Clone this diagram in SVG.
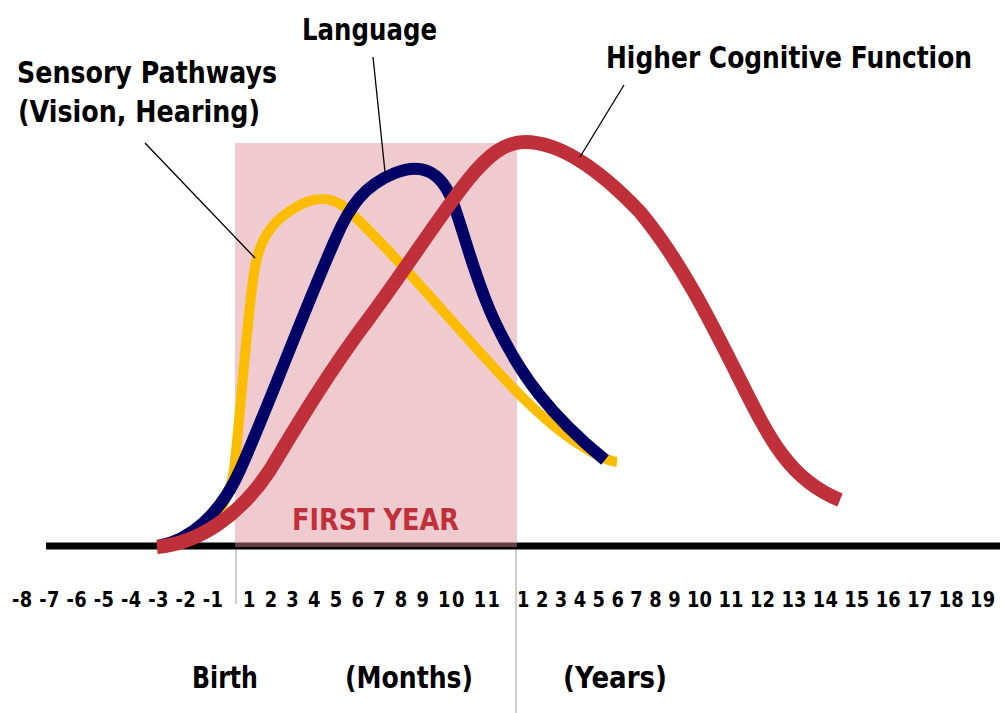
<svg xmlns="http://www.w3.org/2000/svg" width="1004" height="713" viewBox="0 0 1004 713">
<style>
.lbl{font-family:"DejaVu Sans","Liberation Sans",sans-serif;font-weight:bold;fill:#000;}
.big{font-size:30px;}
.tick{font-size:21px;}
.curve{fill:none;stroke-linecap:butt;stroke-linejoin:round;}
.leader{stroke:#000;stroke-width:1.3;fill:none;}
.grid{stroke:#cfcfcf;stroke-width:2;}
</style>
<rect width="1004" height="713" fill="#fff"/>
<g id="axis">
<line class="grid" x1="236" y1="548" x2="236" y2="604"/>
<line class="grid" x1="516" y1="548" x2="516" y2="713"/>
<line x1="46" y1="546" x2="1000" y2="546" stroke="#000" stroke-width="7"/>
</g>
<g id="first-year">
<rect x="235" y="143" width="282" height="404" fill="#dc8a94" fill-opacity="0.45"/>
<text class="lbl big" transform="translate(292,530) scale(0.85,1)" textLength="196.5" lengthAdjust="spacingAndGlyphs" style="fill:#c0303a">FIRST YEAR</text>
</g>
<g id="connectors">
<path id="sensory" class="curve" stroke="#fcbd00" stroke-width="10" d="M158,546 C195,540 225,525 234,470 C242,400 248,300 256,262 C262,235 275,218 300,205 C320,195 335,198 348,210 C380,240 420,285 460,330 C500,375 540,420 580,445 C598,456 608,461 617,462"/>
<path id="language" class="curve" stroke="#000066" stroke-width="12" d="M158,546 C190,540 220,515 240,470 C265,415 300,320 335,240 C350,205 365,185 395,173 C420,163 440,170 452,200 C465,235 475,280 495,322 C520,375 550,415 605,460"/>
<path id="cognitive" class="curve" stroke="#c0303a" stroke-width="14" d="M157,547 C200,543 240,515 270,470 C300,420 330,370 370,317 C405,270 440,215 468,180 C488,155 505,142 525,142 C560,142 600,170 640,212 C680,260 710,320 740,380 C770,440 790,480 840,500"/>
<line class="leader" x1="145" y1="143" x2="255" y2="258"/>
<line class="leader" x1="373" y1="57" x2="385" y2="172"/>
<line class="leader" x1="624" y1="85" x2="580" y2="157"/>
</g>
<g id="label-sensory">
<text class="lbl big" transform="translate(17,83) scale(0.85,1)" textLength="305.9" lengthAdjust="spacingAndGlyphs">Sensory Pathways</text>
<text class="lbl big" transform="translate(18,122) scale(0.85,1)" textLength="284.7" lengthAdjust="spacingAndGlyphs">(Vision, Hearing)</text>
</g>
<g id="label-language">
<text class="lbl big" transform="translate(302,40) scale(0.85,1)" textLength="158.8" lengthAdjust="spacingAndGlyphs">Language</text>
</g>
<g id="label-cognitive">
<text class="lbl big" transform="translate(606,68) scale(0.85,1)" textLength="430.6" lengthAdjust="spacingAndGlyphs">Higher Cognitive Function</text>
</g>
<g id="ticks">
<text class="lbl tick" transform="translate(12,607) scale(0.85,1)" textLength="248.2" lengthAdjust="spacing">-8 -7 -6 -5 -4 -3 -2 -1</text>
<text class="lbl tick" transform="translate(243,607) scale(0.85,1)" textLength="302.4" lengthAdjust="spacing">1 2 3 4 5 6 7 8 9 10 11</text>
<text class="lbl tick" transform="translate(517,607) scale(0.85,1)" textLength="562.4" lengthAdjust="spacing">1 2 3 4 5 6 7 8 9 10 11 12 13 14 15 16 17 18 19</text>
</g>
<g id="axis-labels">
<text class="lbl big" transform="translate(192,688) scale(0.85,1)" textLength="77.6" lengthAdjust="spacingAndGlyphs">Birth</text>
<text class="lbl big" transform="translate(345,688) scale(0.85,1)" textLength="150.6" lengthAdjust="spacingAndGlyphs">(Months)</text>
<text class="lbl big" transform="translate(563,688) scale(0.85,1)" textLength="122.4" lengthAdjust="spacingAndGlyphs">(Years)</text>
</g>
</svg>
